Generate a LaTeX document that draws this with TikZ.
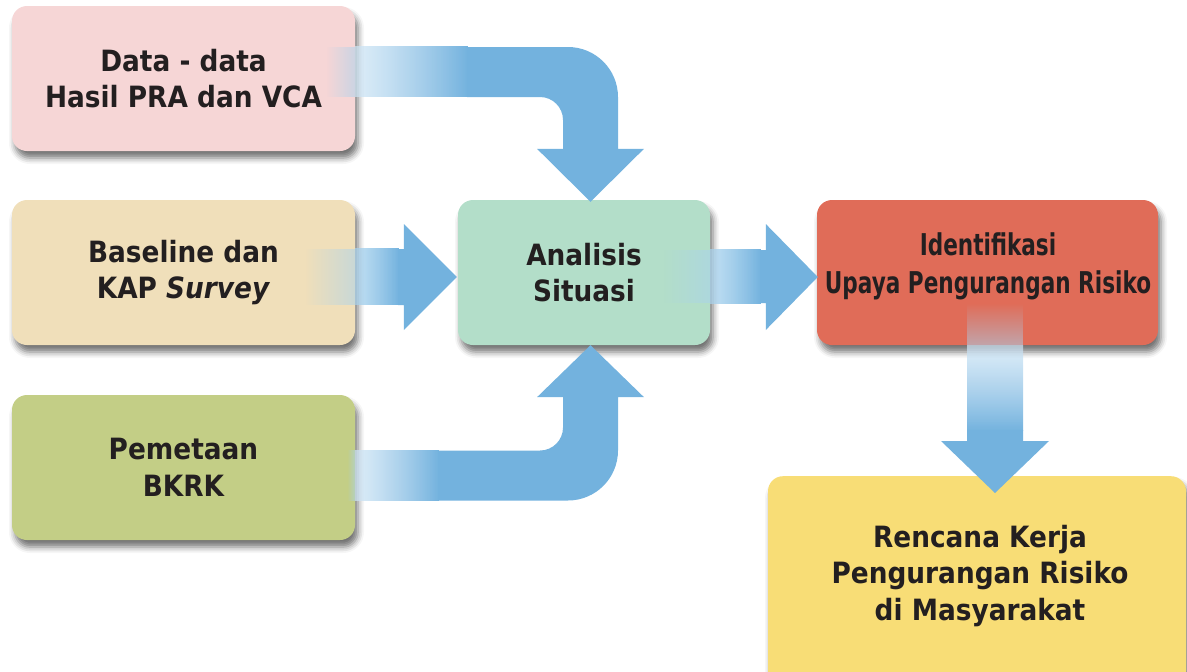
\documentclass[tikz,border=0pt]{standalone}
\usepackage{fontspec}
\setmainfont{DejaVu Sans}[FakeStretch=0.9]
\newfontfamily\narrowfont{DejaVu Sans}[FakeStretch=0.72]
\usetikzlibrary{calc,fadings,shadows.blur}

\definecolor{pinkbox}{HTML}{F6D6D6}
\definecolor{tanbox}{HTML}{F0DFBA}
\definecolor{greenbox}{HTML}{C3CE86}
\definecolor{mintbox}{HTML}{B3DEC9}
\definecolor{redbox}{HTML}{E06C58}
\definecolor{yellowbox}{HTML}{F8DD76}
\definecolor{arrowblue}{HTML}{73B2DE}
\definecolor{arrowpale}{HTML}{CFE5F5}
\definecolor{arrowmid}{HTML}{A9D3EE}
\definecolor{inktext}{HTML}{231F20}

% fadings for the soft start of each block arrow
\tikzfading[name=tintright, left color=transparent!100, right color=transparent!45]
\tikzfading[name=softright, left color=transparent!30, right color=transparent!0]
\tikzfading[name=tintdown, top color=transparent!100, bottom color=transparent!45]
\tikzfading[name=softdown, top color=transparent!30, bottom color=transparent!0]

\tikzset{
  box/.style={rounded corners=15pt, inner sep=0pt, align=center,
    text=inktext, font=\bfseries\fontsize{29.3}{36.5}\selectfont,
    blur shadow={shadow xshift=3pt, shadow yshift=-7pt,
      shadow blur radius=6pt, shadow opacity=55}},
  leftbox/.style={box, minimum width=343pt, minimum height=145pt},
  boxtext/.style={inner sep=0pt, align=center, text=inktext},
  arrowfill/.style={fill=arrowblue},
}

\begin{document}
\begin{tikzpicture}[x=1pt, y=-1pt]
\useasboundingbox (0,0) rectangle (1187,672);

% ---- boxes ----
\node[leftbox, fill=pinkbox] (data) at (183.5,78.5) {Data - data\\Hasil PRA dan VCA};
\node[leftbox, fill=tanbox] (base) at (183.5,272.5) {Baseline dan\\KAP \textit{Survey}};
\node[leftbox, fill=greenbox] (peta) at (183.5,467.5) {Pemetaan\\BKRK};
\node[box, fill=mintbox, minimum width=252pt, minimum height=145pt] (anal) at (584,272.5) {Analisis\\Situasi};
\node[box, fill=redbox, minimum width=341pt, minimum height=145pt] (iden) at (987.5,272.5) {};
% base anchor of a multi-line node sits on its last line
\node[boxtext, anchor=base, font=\narrowfont\bfseries\fontsize{30}{38}\selectfont] (idenT) at (988,293) {Identifikasi\\Upaya Pengurangan Risiko};
\node[box, fill=yellowbox, minimum width=418pt, minimum height=210pt, anchor=north] (renc) at (977,476) {};
\node[boxtext, anchor=base, font=\bfseries\fontsize{29.3}{36.5}\selectfont] (rencT) at (980,620) {Rencana Kerja\\Pengurangan Risiko\\di Masyarakat};

% ---- arrow: Data -> Analisis (bent down) ----
\coordinate (a1s) at ($(data.east)+(-29,-6.5)$);
\coordinate (a1e) at ($(data.east)+(0,-6.5)$);
\coordinate (a1g) at ($(data.east)+(112,-6.5)$);
\coordinate (a1t) at ($(anal.north)+(6.5,2)$);
\fill[arrowmid, path fading=tintright] ($(a1s)+(0,-25)$) rectangle ($(a1e)+(0,25)$);
\shade[left color=arrowpale, right color=arrowblue, path fading=softright]
  ($(a1e)+(0,-25)$) rectangle ($(a1g)+(0.6,25)$);
\fill[arrowfill] let \p1=(a1g), \p2=(a1t) in
  (\x1,\y1+25pt) -- (\x2-22.5pt,\y1+25pt) arc[start angle=90, end angle=0, radius=50pt]
  -- (\x2+27.5pt,\y2+53pt) -- (\x2+53.5pt,\y2+53pt) -- (\x2,\y2)
  -- (\x2-53.5pt,\y2+53pt) -- (\x2-27.5pt,\y2+53pt)
  -- (\x2-27.5pt,\y1-48pt) arc[start angle=0, end angle=90, radius=23pt]
  -- (\x1,\y1-25pt) -- cycle;

% ---- arrow: Baseline -> Analisis ----
\coordinate (a2s) at ($(base.east)+(-50,4.5)$);
\coordinate (a2e) at ($(base.east)+(0,4.5)$);
\coordinate (a2g) at ($(base.east)+(43,4.5)$);
\coordinate (a2t) at ($(anal.west)+(-1,4.5)$);
\fill[arrowmid, path fading=tintright] ($(a2s)+(0,-28)$) rectangle ($(a2e)+(0,28)$);
\shade[left color=arrowmid, right color=arrowblue, path fading=softright]
  ($(a2e)+(0,-28)$) rectangle ($(a2g)+(0.6,28)$);
\fill[arrowfill] let \p1=(a2g), \p2=(a2t) in
  (\x1,\y1+28pt) -- (\x2-53pt,\y1+28pt) -- (\x2-53pt,\y2+53pt) -- (\x2,\y2)
  -- (\x2-53pt,\y2-53pt) -- (\x2-53pt,\y1-28pt) -- (\x1,\y1-28pt) -- cycle;

% ---- arrow: Pemetaan -> Analisis (bent up) ----
\coordinate (a3s) at ($(peta.east)+(-8,8)$);
\coordinate (a3e) at ($(peta.east)+(0,8)$);
\coordinate (a3g) at ($(peta.east)+(83,8)$);
\coordinate (a3t) at ($(anal.south)+(6.5,0)$);
\fill[arrowmid, path fading=tintright] ($(a3s)+(0,-25)$) rectangle ($(a3e)+(0,25)$);
\shade[left color=arrowpale, right color=arrowblue, path fading=softright]
  ($(a3e)+(0,-25)$) rectangle ($(a3g)+(0.6,25)$);
\fill[arrowfill] let \p1=(a3g), \p2=(a3t) in
  (\x1,\y1+25pt) -- (\x2-50.5pt,\y1+25pt) arc[start angle=270, end angle=360, radius=23pt]
  -- (\x2-27.5pt,\y2-52pt) -- (\x2-53.5pt,\y2-52pt) -- (\x2,\y2)
  -- (\x2+53.5pt,\y2-52pt) -- (\x2+27.5pt,\y2-52pt)
  -- (\x2+27.5pt,\y1+25pt) arc[start angle=0, end angle=-90, radius=50pt]
  -- (\x1,\y1-25pt) -- cycle;

% ---- arrow: Analisis -> Identifikasi ----
\coordinate (a4s) at ($(anal.east)+(-47,4)$);
\coordinate (a4e) at ($(anal.east)+(0,4)$);
\coordinate (a4g) at ($(anal.east)+(50,4)$);
\coordinate (a4t) at ($(iden.west)+(1,4.5)$);
\fill[arrowmid, path fading=tintright] ($(a4s)+(0,-26.5)$) rectangle ($(a4e)+(0,26.5)$);
\shade[left color=arrowmid, right color=arrowblue, path fading=softright]
  ($(a4e)+(0,-26.5)$) rectangle ($(a4g)+(0.6,26.5)$);
\fill[arrowfill] let \p1=(a4g), \p2=(a4t) in
  (\x1,\y1+26.5pt) -- (\x2-52pt,\y1+26.5pt) -- (\x2-52pt,\y2+53pt) -- (\x2,\y2)
  -- (\x2-52pt,\y2-53pt) -- (\x2-52pt,\y1-26.5pt) -- (\x1,\y1-26.5pt) -- cycle;

% ---- arrow: Identifikasi -> Rencana Kerja ----
\coordinate (a5s) at ($(iden.south)+(7.5,-42)$);
\coordinate (a5e) at ($(iden.south)+(7.5,0)$);
\coordinate (a5g) at ($(iden.south)+(7.5,85)$);
\coordinate (a5t) at ($(renc.north)+(18,17)$);
\fill[arrowmid, path fading=tintdown] ($(a5s)+(-28,0)$) rectangle ($(a5e)+(28,0)$);
\shade[top color=arrowpale, bottom color=arrowblue, path fading=softdown]
  ($(a5e)+(-28,0)$) rectangle ($(a5g)+(28,0.6)$);
\fill[arrowfill] let \p1=(a5g), \p2=(a5t) in
  (\x1-28pt,\y1) -- (\x1+28pt,\y1) -- (\x1+28pt,\y2+52pt) -- (\x1+54pt,\y2+52pt)
  -- (\x1,\y2) -- (\x1-54pt,\y2+52pt) -- (\x1-28pt,\y2+52pt) -- cycle;
\end{tikzpicture}
\end{document}
